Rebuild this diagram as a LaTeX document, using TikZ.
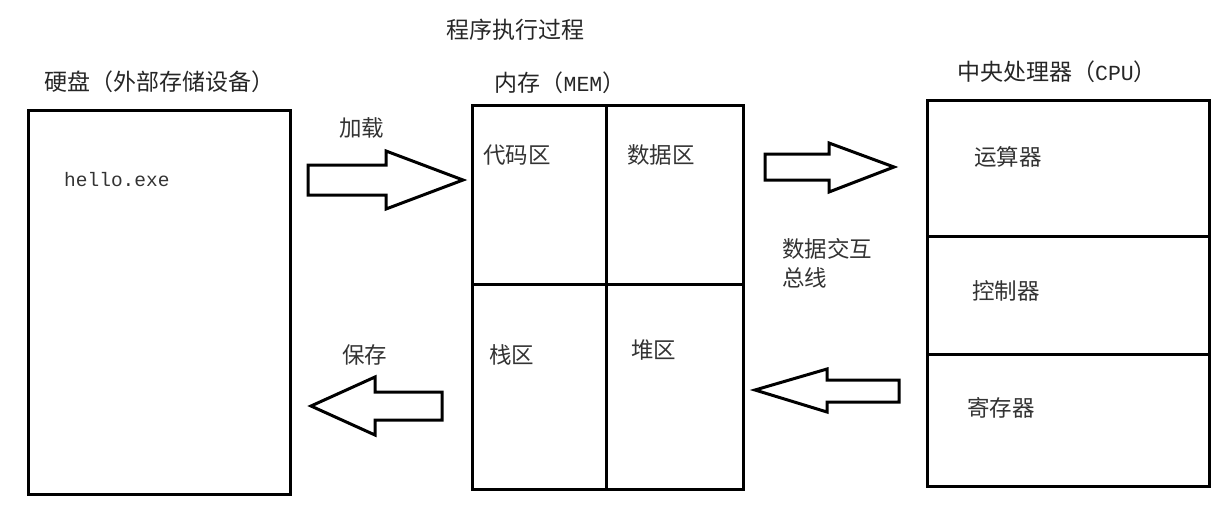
\documentclass[tikz,border=0pt]{standalone}
\usepackage{fontspec}
\newfontfamily\cjk{Noto Sans CJK SC}
\newfontfamily\mono{Liberation Mono}
\begin{document}
\begin{tikzpicture}[
  x=1pt, y=-1pt,
  box/.style={draw, line width=3pt, inner sep=0pt, outer sep=0pt, minimum width=#1},
  lbl/.style={font=\cjk\fontsize{22.5}{29}\selectfont, text=black!80, inner sep=0pt, anchor=west},
  title/.style={font=\cjk\fontsize{23}{25}\selectfont, text=black!85, inner sep=0pt},
  blockarrow/.style={draw, line width=3pt, fill=white},
]
\useasboundingbox (0,0) rectangle (1229,515);
% titles
\node[title] (head) at (515,30) {程序执行过程};
\node[title] (disk_t) at (159,82) {硬盘（外部存储设备）};
\node[title] (mem_t) at (560,83) {内存（{\mono\fontsize{21.5}{25}\selectfont MEM}）};
\node[title] (cpu_t) at (1057,72) {中央处理器（{\mono\fontsize{21.5}{25}\selectfont CPU}）};
% disk
\node[box=262, minimum height=384] (disk) at (159,302) {};
\node[lbl, font=\mono\fontsize{19.5}{25}\selectfont] (exe) at (64,180) {hello.exe};
% memory
\node[box=271, minimum height=384] (mem) at (607.5,297) {};
\coordinate (m_top) at (606,105);
\coordinate (m_bot) at (606,489);
\coordinate (m_l) at (472,284);
\coordinate (m_r) at (743,284);
\draw[line width=3pt] (m_top) -- (m_bot);
\draw[line width=3pt] (m_l) -- (m_r);
\node[lbl] (code) at (483,155) {代码区};
\node[lbl] (data) at (627,155) {数据区};
\node[lbl] (stack) at (489,355) {栈区};
\node[lbl] (heap) at (631,350) {堆区};
% cpu
\node[box=282, minimum height=386] (cpu) at (1068,293) {};
\coordinate (c1_l) at (927,236);
\coordinate (c1_r) at (1209,236);
\coordinate (c2_l) at (927,354);
\coordinate (c2_r) at (1209,354);
\draw[line width=3pt] (c1_l) -- (c1_r);
\draw[line width=3pt] (c2_l) -- (c2_r);
\node[lbl] (alu) at (974,157) {运算器};
\node[lbl] (ctrl) at (972,291) {控制器};
\node[lbl] (reg) at (967,408) {寄存器};
% block arrows
\draw[blockarrow] (308,165) -- (386,165) -- (386,151) -- (463,180) -- (386,209) -- (386,195) -- (308,195) -- cycle;
\node[lbl] (load) at (339,128) {加载};
\draw[blockarrow] (442,392) -- (375,392) -- (375,377) -- (311,406) -- (375,435) -- (375,420) -- (442,420) -- cycle;
\node[lbl] (save) at (342,355) {保存};
\draw[blockarrow] (765,154) -- (829,154) -- (829,143) -- (894,167) -- (829,192) -- (829,180) -- (765,180) -- cycle;
\draw[blockarrow] (899,380) -- (827,380) -- (827,369) -- (755,390) -- (827,412) -- (827,402) -- (899,402) -- cycle;
\node[lbl, align=left] (bus) at (782,263) {数据交互\\总线};
\end{tikzpicture}
\end{document}
